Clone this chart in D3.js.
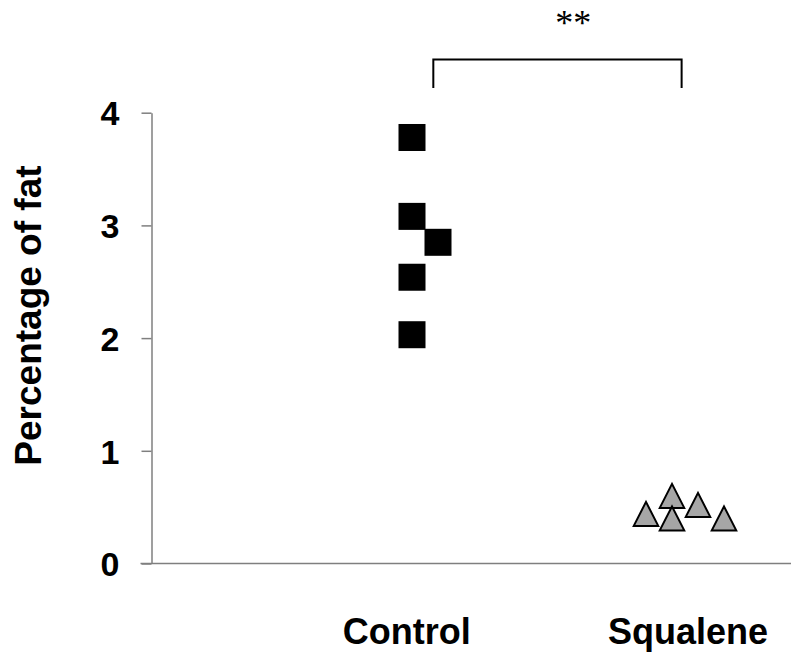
<!DOCTYPE html>
<html>
<head>
<meta charset="utf-8">
<script src="https://cdn.jsdelivr.net/npm/d3@7"></script>
<style>
  body { margin: 0; background: #fff; }
  svg { display: block; }
  text { font-family: "Liberation Sans", Arial, sans-serif; font-weight: bold; fill: #000; }
</style>
</head>
<body>
<div id="chart"></div>
<script>
// Data
const groups = ['Control', 'Squalene']
const controlValues = [3.78, 3.08, 2.85, 2.54, 2.03]
const controlJitter = [0, 0, 0.1, 0, 0]
const squaleneValues = [0.44, 0.60, 0.40, 0.52, 0.40]
const squaleneJitter = [-0.1, 0, 0, 0.1, 0.2]
const yTicks = [0, 1, 2, 3, 4]
const significance = '**'

// SVG Node
const width = 791
const height = 657
const svg = d3.select('#chart').append('svg')
    .attr('width', width)
    .attr('height', height)

// Scale
const y = d3.scaleLinear()
    .domain([0, 4])
    .range([563.5, 112.7])
const x = d3.scaleLinear()
    .domain([0, 1])
    .range([412, 672])

const axisColor = '#7f7f7f'
const axisX = 151.5

// Y axis
const yAxis = d3.axisLeft(y)
    .tickValues(yTicks)
    .tickSize(10)
    .tickSizeOuter(0)
    .tickPadding(22)
    .tickFormat(d3.format('d'))

const gy = svg.append('g')
    .attr('transform', `translate(${axisX}, 0)`)
    .call(yAxis)
gy.select('.domain').attr('stroke', axisColor).attr('stroke-width', 1.5)
gy.selectAll('.tick line').attr('stroke', axisColor).attr('stroke-width', 1.5)
gy.selectAll('.tick text')
    .attr('font-family', '"Liberation Sans", Arial, sans-serif')
    .attr('font-weight', 'bold')
    .attr('font-size', 34)
    .attr('dy', '0.36em')
    .attr('fill', '#000')

// X axis line (extends left to the tick length, right to the edge)
svg.append('line')
    .attr('x1', axisX - 11)
    .attr('x2', width)
    .attr('y1', y(0))
    .attr('y2', y(0))
    .attr('stroke', axisColor)
    .attr('stroke-width', 1.5)

// Y title
svg.append('text')
    .attr('transform', `translate(41, ${y(2.2)}) rotate(-90)`)
    .attr('text-anchor', 'middle')
    .attr('font-size', 37)
    .text('Percentage of fat')

// Category labels
const labelShift = [-0.02, 0.062]
svg.selectAll('text.category')
    .data(groups)
    .enter()
    .append('text')
    .attr('class', 'category')
    .attr('x', (d, i) => x(i + labelShift[i]))
    .attr('y', 644)
    .attr('text-anchor', 'middle')
    .attr('font-size', 36)
    .text(d => d)

// Control squares
const sq = 27
svg.selectAll('rect.control')
    .data(controlValues)
    .enter()
    .append('rect')
    .attr('class', 'control')
    .attr('x', (d, i) => x(0 + controlJitter[i]) - sq / 2)
    .attr('y', d => y(d) - sq / 2)
    .attr('width', sq)
    .attr('height', sq)
    .attr('fill', '#000')

// Squalene triangles
const tw = 24.5
const th = 24
const tri = `M0,${-th / 2}L${tw / 2},${th / 2}L${-tw / 2},${th / 2}Z`
svg.selectAll('path.squalene')
    .data(squaleneValues)
    .enter()
    .append('path')
    .attr('class', 'squalene')
    .attr('d', tri)
    .attr('transform', (d, i) => `translate(${x(1 + squaleneJitter[i])}, ${y(d)})`)
    .attr('fill', '#a6a6a6')
    .attr('stroke', '#000')
    .attr('stroke-width', 2)
    .attr('stroke-linejoin', 'miter')

// Significance bracket
const bracketX = [0.082, 1.037]
const bracketY = [4.22, 4.473]
svg.append('path')
    .attr('d', d3.line()([
        [x(bracketX[0]), y(bracketY[0])],
        [x(bracketX[0]), y(bracketY[1])],
        [x(bracketX[1]), y(bracketY[1])],
        [x(bracketX[1]), y(bracketY[0])]
    ]))
    .attr('fill', 'none')
    .attr('stroke', '#000')
    .attr('stroke-width', 2)

svg.append('text')
    .attr('x', x(0.62))
    .attr('y', 35)
    .attr('text-anchor', 'middle')
    .attr('font-size', 36)
    .style('font-family', '"Liberation Serif", "Times New Roman", serif')
    .style('font-weight', 'normal')
    .text(significance)
</script>
</body>
</html>
